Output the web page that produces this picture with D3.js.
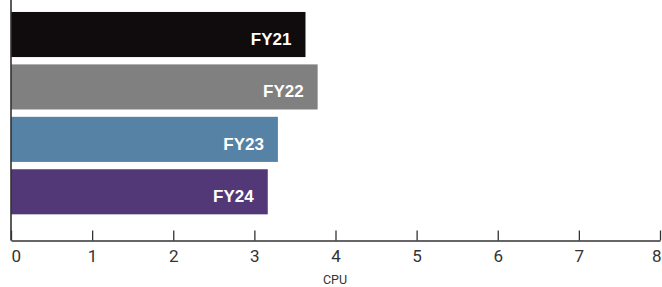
<!DOCTYPE html>
<html>
<head>
<meta charset="utf-8">
<script src="https://cdn.jsdelivr.net/npm/d3@7"></script>
<style>
  body { margin: 0; background: #fff; }
  svg { display: block; }
</style>
</head>
<body>
<svg id="chart"></svg>
<script>
// datos del grafico
const years = ["FY21", "FY22", "FY23", "FY24"];
const cpuValues = [3.63, 3.78, 3.29, 3.165];
const barColors = ["#100b0c", "#808080", "#5582a5", "#533878"];
const tickValues = [0, 1, 2, 3, 4, 5, 6, 7, 8];
const axisTitle = "CPU";

const width = 662;
const height = 287;

const svg = d3.select("#chart")
  .attr("width", width)
  .attr("height", height);

const x = d3.scaleLinear().domain([0, 8]).range([11, 660]);
const y = d3.scaleBand().domain(years).range([8.3, 218]).paddingInner(0.14).paddingOuter(0.07);
const axisY = 240.5;

// barras
svg.selectAll("rect.bar")
  .data(years)
  .enter()
  .append("rect")
  .attr("class", "bar")
  .attr("x", x(0))
  .attr("y", d => y(d))
  .attr("width", (d, i) => x(cpuValues[i]) - x(0))
  .attr("height", y.bandwidth())
  .attr("fill", (d, i) => barColors[i]);

// etiquetas dentro de las barras
svg.selectAll("text.lbl")
  .data(years)
  .enter()
  .append("text")
  .attr("class", "lbl")
  .attr("x", (d, i) => x(cpuValues[i]) - 14)
  .attr("y", d => y(d) + y.bandwidth() - 12)
  .attr("text-anchor", "end")
  .attr("fill", "#fff")
  .style("font-family", "'Liberation Sans', Arial, sans-serif")
  .style("font-weight", "bold")
  .style("font-size", "17px")
  .text(d => d);

// eje x
const xAxis = d3.axisBottom(x)
  .tickValues(tickValues)
  .tickSizeInner(-10)
  .tickSizeOuter(0)
  .tickPadding(0)
  .tickFormat(d3.format("d"));

const gx = svg.append("g")
  .attr("transform", `translate(0,${axisY})`)
  .call(xAxis);

gx.select(".domain").attr("stroke", "#333").attr("stroke-width", 1.6);
gx.selectAll(".tick line").attr("stroke", "#333").attr("stroke-width", 1.3);
gx.selectAll(".tick text")
  .attr("y", 21)
  .attr("dy", null)
  .attr("fill", "#333")
  .style("font-family", "Roboto, sans-serif")
  .style("font-size", "17px")
  .attr("text-anchor", (d, i) => i === 0 ? "start" : (i === tickValues.length - 1 ? "end" : "middle"))
  .attr("dx", (d, i) => i === 0 ? 0 : (i === tickValues.length - 1 ? 1 : 0));

// eje y (solo la linea)
svg.append("line")
  .attr("x1", x(0)).attr("x2", x(0))
  .attr("y1", 0).attr("y2", axisY)
  .attr("stroke", "#333")
  .attr("stroke-width", 1.6);

svg.append("text")
  .attr("x", 335)
  .attr("y", 284)
  .attr("text-anchor", "middle")
  .attr("fill", "#333")
  .style("font-family", "Roboto, sans-serif")
  .style("font-size", "12.5px")
  .text(axisTitle);
</script>
</body>
</html>
